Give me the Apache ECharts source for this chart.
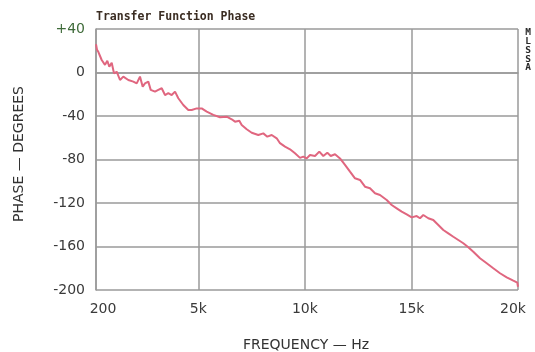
<!DOCTYPE html>
<html>
<head>
<meta charset="utf-8">
<script src="https://cdn.jsdelivr.net/npm/echarts@6/dist/echarts.min.js"></script>
<style>html,body{margin:0;padding:0;background:#fff;}#c{width:535px;height:352px;}</style>
</head>
<body>
<div id="c"></div>
<script>
var freqHz = [200,247,308,467,622,730,824,937,1045,1171,1326,1481,1716,1950,2110,2264,2391,2499,2654,2767,2968,3123,3283,3438,3592,3752,3907,4062,4296,4531,4690,4925,5159,5394,5704,6018,6332,6567,6722,6924,7036,7271,7506,7815,8050,8238,8444,8679,8833,9068,9302,9537,9772,9927,10086,10241,10476,10677,10865,11053,11212,11414,11649,11883,12118,12352,12587,12821,13056,13290,13525,13840,14074,14309,14543,14778,15013,15247,15402,15557,15791,16026,16261,16495,16730,16965,17199,17434,17669,17903,18217,18532,18841,19156,19470,19780,19968,20000];
var phaseDeg = [26,21,19,11.5,7,10.8,5.3,9,-0.8,0.7,-6.9,-3.8,-6.9,-8.4,-10,-3.8,-13,-10,-8.4,-16,-17.6,-16,-14.5,-20.7,-19,-20.7,-17.6,-23.7,-29.9,-34.5,-34.5,-33,-33,-36,-39,-41.2,-40.6,-43,-45.2,-44.3,-48.3,-52.2,-55.4,-57.5,-56,-59,-57.5,-60.5,-65,-68.2,-70.6,-74.3,-78.5,-77.4,-79,-75.9,-76.8,-72.8,-76.8,-73.7,-76.8,-75.2,-79,-85,-91.2,-97.3,-98.8,-105,-106.5,-111,-112.6,-117.2,-121.8,-124.9,-128,-130.5,-133.2,-132,-134,-131,-134,-135.6,-140.2,-144.8,-147.9,-151,-154,-157,-160.7,-164.8,-170.8,-175.4,-180,-184.6,-188.3,-191.4,-193.2,-197];
var xTicks = [200,5000,10000,15000,20000];
var xTickLabels = ['200','5k','10k','15k','20k'];
var yMin = -200, yMax = 40, yStep = 40;
var titleText = 'Transfer Function Phase';
var sideText = 'MLSSA';
var xName = 'FREQUENCY \u2014 Hz';
var yName = 'PHASE \u2014 DEGREES';

var pts = freqHz.map(function(f,i){return [f, phaseDeg[i]];});
var chart = echarts.init(document.getElementById('c'), null, {renderer:'canvas'});
var gridCol = '#9a9a9a';
var lblFont = {fontFamily:'DejaVu Sans', fontSize:14, color:'#3a3a3a'};
var graphics = [
  {type:'text', left:96, top:11, style:{text:titleText, fontFamily:'DejaVu Sans Mono', fontWeight:'bold', fontSize:11.5, fill:'#3a2c22'}},
  {type:'text', x:306, y:345, style:{text:xName, fontFamily:'DejaVu Sans', fontSize:14, fill:'#333', textAlign:'center', textVerticalAlign:'middle'}},
  {type:'text', x:19, y:154, rotation:Math.PI/2, style:{text:yName, fontFamily:'DejaVu Sans', fontSize:14, fill:'#333', textAlign:'center', textVerticalAlign:'middle'}}
];
sideText.split('').forEach(function(ch, i){
  graphics.push({type:'text', x:528, y:33 + i*8.7, style:{text:ch, fontFamily:'DejaVu Sans Mono', fontWeight:'bold', fontSize:9.5, fill:'#2a2a2a', textAlign:'center', textVerticalAlign:'middle'}});
});
chart.setOption({
  animation:false,
  backgroundColor:'#fff',
  grid:{left:96,right:17,top:29,bottom:62,show:false},
  xAxis:{
    type:'value', min:200, max:20000,
    axisLine:{show:true,lineStyle:{color:gridCol,width:1.5}},
    axisTick:{show:false, customValues:xTicks},
    splitLine:{show:true,lineStyle:{color:gridCol,width:1.5}},
    axisLabel:{customValues:xTicks, margin:12, fontFamily:'DejaVu Sans', fontSize:14, color:'#3a3a3a',
      formatter:function(v){
        var i=xTicks.indexOf(v); if(i<0) return '';
        if(i===0) return '{a|'+xTickLabels[i]+'}';
        if(i===xTicks.length-1) return '{b|'+xTickLabels[i]+'}';
        return xTickLabels[i];
      },
      rich:{a:Object.assign({padding:[0,0,0,14]},lblFont), b:Object.assign({padding:[0,10,0,0]},lblFont)}}
  },
  yAxis:{
    type:'value', min:yMin, max:yMax, interval:yStep,
    axisLine:{show:true,lineStyle:{color:gridCol,width:1.5}},
    axisTick:{show:false},
    splitLine:{show:true,lineStyle:{color:gridCol,width:1.5}},
    axisLabel:{margin:11, fontFamily:'DejaVu Sans', fontSize:14, color:'#3a3a3a',
      formatter:function(v){return v>0?'{g|+'+v+'}':String(v);},
      rich:{g:{color:'#3f6b3a',fontFamily:'DejaVu Sans',fontSize:14}}}
  },
  graphic:graphics,
  series:[{
    type:'line', data:pts, showSymbol:false, smooth:false,
    lineStyle:{color:'#e0667f', width:2},
    z:3
  }]
});
</script>
</body>
</html>
